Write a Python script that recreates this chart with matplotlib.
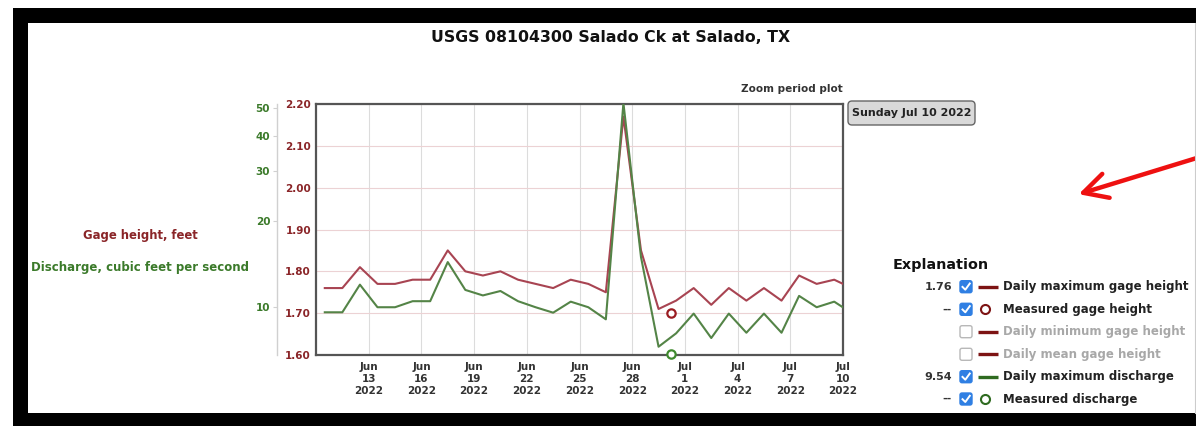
import matplotlib
matplotlib.use("Agg")
import matplotlib.pyplot as plt
import matplotlib.dates as mdates
import matplotlib.transforms as mtransforms
from matplotlib.patches import Rectangle, FancyBboxPatch, FancyArrowPatch
from matplotlib.lines import Line2D
import pandas as pd

# ---------------- data ----------------
title = "USGS 08104300 Salado Ck at Salado, TX"
dates = pd.date_range("2022-06-10 12:00", periods=31, freq="D")
gage_height = [1.76, 1.76, 1.81, 1.77, 1.77, 1.78, 1.78, 1.85, 1.80, 1.79, 1.80,
               1.78, 1.77, 1.76, 1.78, 1.77, 1.75, 2.17, 1.85, 1.71, 1.73,
               1.76, 1.72, 1.76, 1.73, 1.76, 1.73, 1.79, 1.77, 1.78, 1.76]
discharge = [9.6, 9.6, 12.0, 10.0, 10.0, 10.5, 10.5, 14.4, 11.5, 11.0, 11.4,
             10.5, 10.0, 9.57, 10.46, 10.0, 9.07, 52.0, 15.0, 7.27, 8.1,
             9.5, 7.8, 9.5, 8.14, 9.5, 8.14, 10.96, 10.0, 10.46, 9.54]
measured_date = [pd.Timestamp("2022-06-30 05:00")]
measured_gage = [1.70]
measured_discharge = [6.84]

gage_ticks = [1.60, 1.70, 1.80, 1.90, 2.00, 2.10, 2.20]
discharge_ticks = [10, 20, 30, 40, 50]
x_tick_dates = ["2022-06-13", "2022-06-16", "2022-06-19", "2022-06-22", "2022-06-25",
                "2022-06-28", "2022-07-01", "2022-07-04", "2022-07-07", "2022-07-10"]
x_tick_labels = ["Jun\n13\n2022", "Jun\n16\n2022", "Jun\n19\n2022", "Jun\n22\n2022",
                 "Jun\n25\n2022", "Jun\n28\n2022", "Jul\n1\n2022", "Jul\n4\n2022",
                 "Jul\n7\n2022", "Jul\n10\n2022"]
legend_values = ["1.76", "--", "", "", "9.54", "--"]
legend_labels = ["Daily maximum gage height", "Measured gage height",
                 "Daily minimum gage height", "Daily mean gage height",
                 "Daily maximum discharge", "Measured discharge"]
legend_checked = [True, True, False, False, True, True]
legend_kind = ["line", "circle", "line", "line", "line", "circle"]
legend_color = ["#7d1414", "#7d1414", "#7d1414", "#7d1414", "#2f6b20", "#2f6b20"]

# ---------------- figure ----------------
W, H, DPI = 1196, 426, 100
fig = plt.figure(figsize=(W / DPI, H / DPI), dpi=DPI)
fig.patch.set_facecolor("white")
pix = mtransforms.Affine2D().scale(1, -1).translate(0, H).scale(1 / DPI) + fig.dpi_scale_trans

RED = "#a84452"
GREEN = "#548447"
RED_TXT = "#8a2528"
GREEN_TXT = "#3b7a2a"

ax = fig.add_axes([316 / W, 1 - 355 / H, 527 / W, 251 / H])
ax.set_facecolor("white")
ax.set_xlim(pd.Timestamp("2022-06-10 00:00"), pd.Timestamp("2022-07-10 00:00"))
ax.set_ylim(1.60, 2.20)
ax.set_yticks(gage_ticks)
ax.set_yticklabels([f"{v:.2f}" for v in gage_ticks])
ax.set_xticks(pd.to_datetime(x_tick_dates))
ax.set_xticklabels(x_tick_labels)
for lab in ax.get_xticklabels():
    lab.set_fontweight("bold")
    lab.set_fontsize(7.5)
    lab.set_color("#333333")
    lab.set_linespacing(1.25)
for lab in ax.get_yticklabels():
    lab.set_fontweight("bold")
    lab.set_fontsize(7.5)
    lab.set_color(RED_TXT)
ax.tick_params(axis="y", length=0, pad=3.6)
ax.tick_params(axis="x", length=0, pad=5)
ax.grid(axis="x", color="#dcdcdc", lw=0.8)
ax.grid(axis="y", color="#ecd2d4", lw=0.8)
ax.set_axisbelow(True)
for s in ax.spines.values():
    s.set_color("#555555")
    s.set_linewidth(1.6)

ax.plot(dates, gage_height, color=RED, lw=1.5, zorder=3)
ax.plot(measured_date, measured_gage, ls="none", marker="o", ms=6, mfc="white",
        mec="#9a1c22", mew=1.6, zorder=5, clip_on=False)

ax2 = ax.twinx()
ax2.set_yscale("log")
ax2.set_ylim(6.80, 51.6)
ax2.yaxis.tick_left()
ax2.yaxis.set_label_position("left")
ax2.set_yticks(discharge_ticks)
ax2.set_yticklabels([str(v) for v in discharge_ticks])
ax2.yaxis.set_minor_locator(matplotlib.ticker.NullLocator())
ax2.spines["left"].set_position(("outward", 28))
ax2.spines["left"].set_color("#d0d0d0")
ax2.spines["left"].set_linewidth(1.0)
for k in ["right", "top", "bottom"]:
    ax2.spines[k].set_visible(False)
ax2.tick_params(axis="y", which="major", length=3, color="#d0d0d0", pad=2.0)
for lab in ax2.get_yticklabels():
    lab.set_fontweight("bold")
    lab.set_fontsize(7.5)
    lab.set_color(GREEN_TXT)
ax2.plot(dates, discharge, color=GREEN, lw=1.5, zorder=3)
ax2.plot(measured_date, measured_discharge, ls="none", marker="o", ms=6, mfc="white",
         mec="#3f8a2e", mew=1.6, zorder=5, clip_on=False)

# ---------------- texts ----------------
fig.text(611, 38, title, transform=pix, ha="center", va="center",
         fontsize=11.3, fontweight="bold", color="#111111")
fig.text(843, 89, "Zoom period plot", transform=pix, ha="right", va="center",
         fontsize=7.5, fontweight="bold", color="#333333")
fig.text(140, 235, "Gage height, feet", transform=pix, ha="center", va="center",
         fontsize=8.4, fontweight="bold", color=RED_TXT)
fig.text(140, 268, "Discharge, cubic feet per second", transform=pix, ha="center",
         va="center", fontsize=8.5, fontweight="bold", color=GREEN_TXT)

box = FancyBboxPatch((848, 101), 127, 24, boxstyle="round,pad=0,rounding_size=4",
                     transform=pix, facecolor="#d9d9d9", edgecolor="#666666", lw=1.0)
fig.add_artist(box)
fig.text(911.5, 113.5, "Sunday Jul 10 2022", transform=pix, ha="center", va="center",
         fontsize=8, fontweight="bold", color="#222222")

# ---------------- legend ----------------
fig.text(893, 265, "Explanation", transform=pix, ha="left", va="center",
         fontsize=10.4, fontweight="bold", color="#111111")
row_y = [286.7, 309.3, 331.7, 354.3, 376.7, 399.0]
for i, y in enumerate(row_y):
    checked = legend_checked[i]
    if legend_values[i]:
        fig.text(952, y, legend_values[i], transform=pix, ha="right", va="center",
                 fontsize=8, fontweight="bold", color="#333333")
    cb = FancyBboxPatch((960, y - 6), 12, 12, boxstyle="round,pad=0,rounding_size=2",
                        transform=pix,
                        facecolor="#2f7fe3" if checked else "white",
                        edgecolor="#2f7fe3" if checked else "#b8b8b8", lw=1.0)
    fig.add_artist(cb)
    if checked:
        fig.add_artist(Line2D([962.5, 965.3, 969.8], [y + 0.2, y + 3.0, y - 3.2],
                              transform=pix, color="white", lw=1.4))
    if legend_kind[i] == "line":
        fig.add_artist(Line2D([978, 998], [y, y], transform=pix,
                              color=legend_color[i], lw=2.4, solid_capstyle="butt"))
    else:
        fig.add_artist(Line2D([985], [y], transform=pix, ls="none", marker="o",
                              ms=6.5, mfc="white", mec=legend_color[i], mew=1.5))
    fig.text(1003, y, legend_labels[i], transform=pix, ha="left", va="center",
             fontsize=8.5, fontweight="bold",
             color="#222222" if checked else "#a8a8a8")

# ---------------- screenshot frame & arrow ----------------
for (x0, y0, w, h) in [(13, 8, W - 13, 15), (13, 8, 15, H - 8), (13, 413, W - 13, 13)]:
    fig.add_artist(Rectangle((x0, y0), w, h, transform=pix, facecolor="black",
                             edgecolor="none"))
fig.add_artist(Line2D([1195, 1195], [23, 413], transform=pix, color="#cccccc", lw=0.8))

arrow = FancyArrowPatch((1200, 157), (1076, 195), transform=pix,
                        arrowstyle="->,head_length=0.95,head_width=0.5",
                        mutation_scale=18, color="#ee1111", lw=3.2)
fig.add_artist(arrow)

fig.savefig("out.png", dpi=DPI, facecolor="white")
